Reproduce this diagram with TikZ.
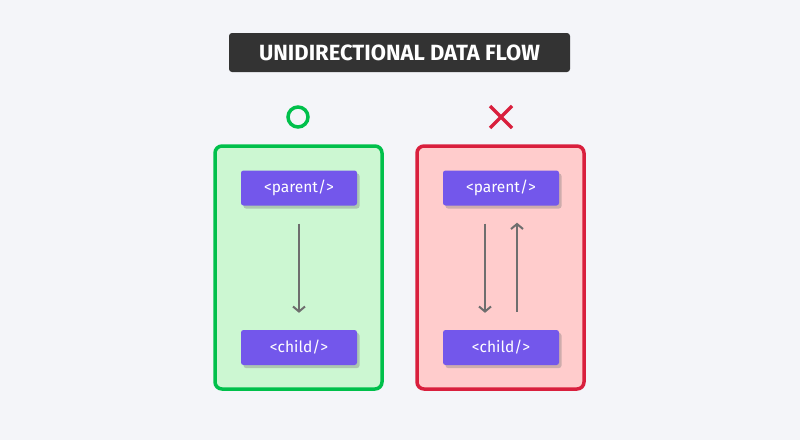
\documentclass[tikz,border=0pt]{standalone}
\usepackage{fontspec}
\setmainfont{Fira Sans}
\usetikzlibrary{arrows.meta,shadows}
\definecolor{bg}{HTML}{F4F5F9}
\definecolor{titlebg}{HTML}{333333}
\definecolor{okgreen}{HTML}{00C04B}
\definecolor{okfill}{HTML}{CCF7D2}
\definecolor{badred}{HTML}{D91F3D}
\definecolor{badfill}{HTML}{FFCCCC}
\definecolor{comp}{HTML}{7357EB}
\definecolor{arrgray}{HTML}{6E6E6E}
\tikzset{
  panel/.style={line width=3.5pt, rounded corners=7pt},
  compnode/.style={fill=comp, text=white, rounded corners=2.5pt, minimum width=116pt, minimum height=35pt, inner sep=0pt,
    font=\fontsize{15.5}{18}\selectfont,
    drop shadow={shadow xshift=2.5pt, shadow yshift=-3pt, fill=black!55, opacity=0.35}},
  flow/.style={draw=arrgray, line width=2pt, -{Straight Barb[length=5pt,width=12pt,line width=2pt]}},
}
\begin{document}
\begin{tikzpicture}[x=1pt,y=-1pt]
\fill[bg] (0,0) rectangle (800,440);
\useasboundingbox (0,0) rectangle (800,440);
% title
\node[fill=titlebg, text=white, rounded corners=3pt, minimum width=341pt, minimum height=39pt, inner sep=0pt,
  font=\fontsize{22}{26}\selectfont\bfseries] (title) at (399.5,52.5) {UNIDIRECTIONAL DATA FLOW};
% panels
\draw[panel, draw=okgreen, fill=okfill] (215,146) rectangle (382,389);
\draw[panel, draw=badred, fill=badfill] (417,146) rectangle (584,389);
% marks
\draw[okgreen, line width=3.5pt] (298,117) circle (10);
\draw[badred, line width=3.5pt] (490,106) -- (512,128) (512,106) -- (490,128);
% nodes
\node[compnode] (pg) at (299,188) {<parent/>};
\node[compnode] (cg) at (299,347.5) {<child/>};
\node[compnode] (pr) at (501,188) {<parent/>};
\node[compnode] (cr) at (501,347.5) {<child/>};
% arrows
\draw[flow, shorten <=18pt, shorten >=17pt] (pg.south) -- (cg.north);
\draw[flow, shorten <=18pt, shorten >=17pt] ([xshift=-16pt]pr.south) -- ([xshift=-16pt]cr.north);
\draw[flow, shorten <=18pt, shorten >=17pt] ([xshift=16pt]cr.north) -- ([xshift=16pt]pr.south);
\end{tikzpicture}
\end{document}
